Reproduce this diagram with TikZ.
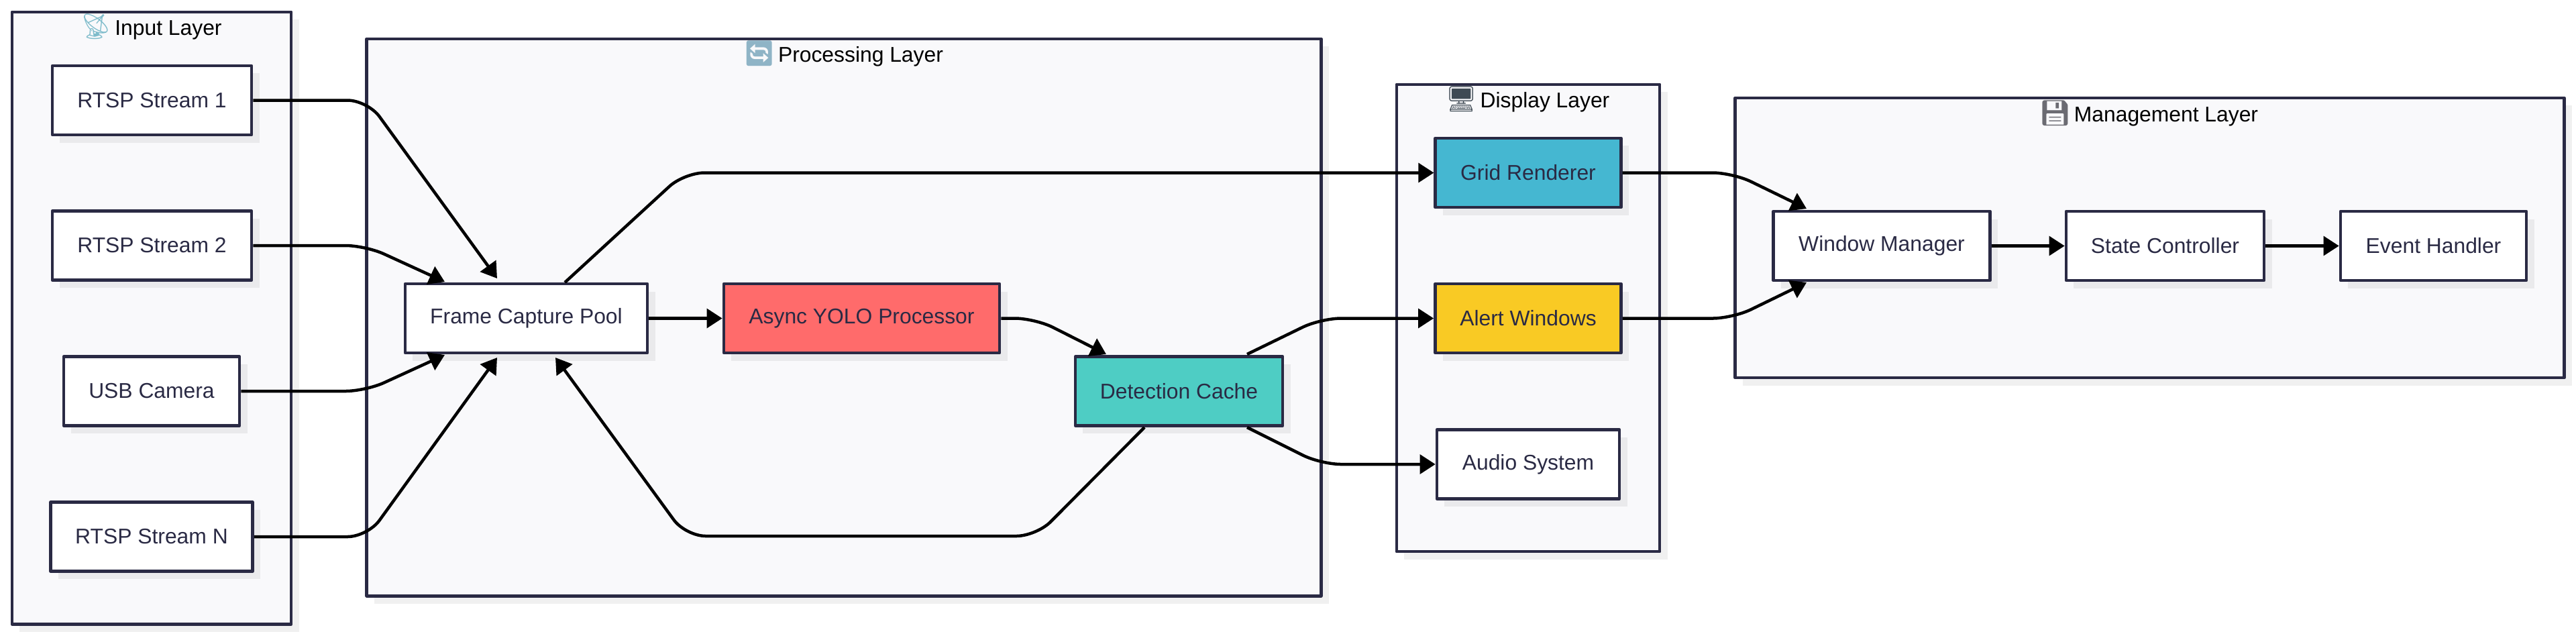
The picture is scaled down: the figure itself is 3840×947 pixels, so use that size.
\documentclass[tikz,border=0pt]{standalone}
\usepackage{fontspec}
\setmainfont{Liberation Sans}
\newfontfamily\emojifont{Noto Emoji}
\usetikzlibrary{arrows.meta,shadows}
\definecolor{inkline}{HTML}{2A2A44}
\definecolor{layerbg}{HTML}{F9F9FB}
\definecolor{yolored}{HTML}{FF6B6B}
\definecolor{cacheteal}{HTML}{4ECDC4}
\definecolor{gridblue}{HTML}{45B7D1}
\definecolor{alertyellow}{HTML}{F9CA24}
\newcommand{\layericon}[2]{{\emojifont\fontsize{10.6}{10.6}\selectfont\textcolor[HTML]{#1}{#2}}\hspace{-1.2pt}}
\tikzset{
  softshadow/.style={drop shadow={shadow xshift=.115cm,shadow yshift=-.115cm,opacity=.06,fill=black}},
  layer/.style={draw=inkline,fill=layerbg,line width=.45mm,inner sep=0,softshadow},
  layertitle/.style={anchor=base,text=black,inner sep=0,font=\fontsize{9.05}{10.6}\selectfont},
  unit/.style={draw=inkline,fill=white,line width=.45mm,inner sep=0,minimum height=1.03cm,text=inkline,font=\fontsize{9.05}{10.6}\selectfont,softshadow},
  flow/.style={->,black,line width=.45mm,rounded corners=.3cm}
}
\begin{document}
\begin{tikzpicture}[x=.01cm,y=-.01cm,line join=round,>={Triangle[length=.23cm,width=.285cm]}]
    \useasboundingbox (0,0) rectangle (3840,947);
    % layers
    \foreach \nm/\cx/\cy/\w/\h in {inputlayer/226/474/4.16/9.12,proclayer/1258/473/14.22/8.30,displaylayer/2278/474/3.92/6.96,mgmtlayer/3204.5/354.5/12.35/4.17}
        \node[layer,minimum width=\w cm,minimum height=\h cm] (\nm) at (\cx,\cy) {};
    \node[layertitle] (inputtitle) at (225,52) {\layericon{7FBCCB}{📡} Input Layer};
    \node[layertitle] (proctitle) at (1257,92) {\layericon{8FB4C6}{🔄} Processing Layer};
    \node[layertitle] (displaytitle) at (2277,160) {\layericon{3F4A54}{🖥} Display Layer};
    \node[layertitle] (mgmttitle) at (3203,181) {\layericon{6B6B72}{💾} Management Layer};
    % nodes
    \foreach \nm/\cx/\cy/\w/\txt in {rtspa/226.5/149.5/2.97/RTSP Stream 1,rtspb/226.5/366/2.97/RTSP Stream 2,usbcam/226/583/2.62/USB Camera,rtspn/226/800/3.01/RTSP Stream N,capture/784.5/474.5/3.61/Frame Capture Pool,audio/2278/692/2.72/Audio System,winmgr/2805/366.5/3.225/Window Manager,state/3227.5/366.5/2.95/State Controller,events/3627.5/366.5/2.77/Event Handler}
        \node[unit,minimum width=\w cm] (\nm) at (\cx,\cy) {\txt};
    \node[unit,fill=yolored,minimum width=4.11cm] (yolo) at (1284.5,474.5) {Async YOLO Processor};
    \node[unit,fill=cacheteal,minimum width=3.09cm] (cache) at (1757.5,583) {Detection Cache};
    \node[unit,fill=gridblue,minimum width=2.765cm] (grid) at (2278,257.5) {Grid Renderer};
    \node[unit,fill=alertyellow,minimum width=2.77cm] (alert) at (2278,474.5) {Alert Windows};
    % free ends of the connectors
    \coordinate (capinA) at (741,415);
    \coordinate (capinB) at (663,420);
    \coordinate (capinC) at (663,529);
    \coordinate (capinD) at (741,533);
    \coordinate (capinE) at (828,533);
    \coordinate (capoutA) at (842,421);
    \coordinate (cacheinA) at (1649,528);
    \coordinate (cacheoutA) at (1859,528);
    \coordinate (cacheoutB) at (1859,637);
    \coordinate (cacheoutC) at (1706,637);
    \coordinate (mgrinA) at (2693,311);
    \coordinate (mgrinB) at (2693,421);
    % connectors
    \draw[flow] (rtspa.east) -- (548,149.5) -- (capinA);
    \draw[flow] (rtspb.east) -- (545,366) -- (capinB);
    \draw[flow] (usbcam.east) -- (545,583) -- (capinC);
    \draw[flow] (rtspn.east) -- (548,800) -- (capinD);
    \draw[flow] (capture) -- (yolo);
    \draw[flow] (yolo.east) -- (1543,474.5) -- (cacheinA);
    \draw[flow] (capoutA) -- (1020,257.5) -- (grid.west);
    \draw[flow] (cacheoutA) -- (1969,474.5) -- (alert.west);
    \draw[flow] (cacheoutB) -- (1969,692) -- (audio.west);
    \draw[flow] (cacheoutC) -- (1545,799) -- (1022,799) -- (capinE);
    \draw[flow] (grid.east) -- (2583,257.5) -- (mgrinA);
    \draw[flow] (alert.east) -- (2583,474.5) -- (mgrinB);
    \draw[flow] (winmgr) -- (state);
    \draw[flow] (state) -- (events);
\end{tikzpicture}
\end{document}
